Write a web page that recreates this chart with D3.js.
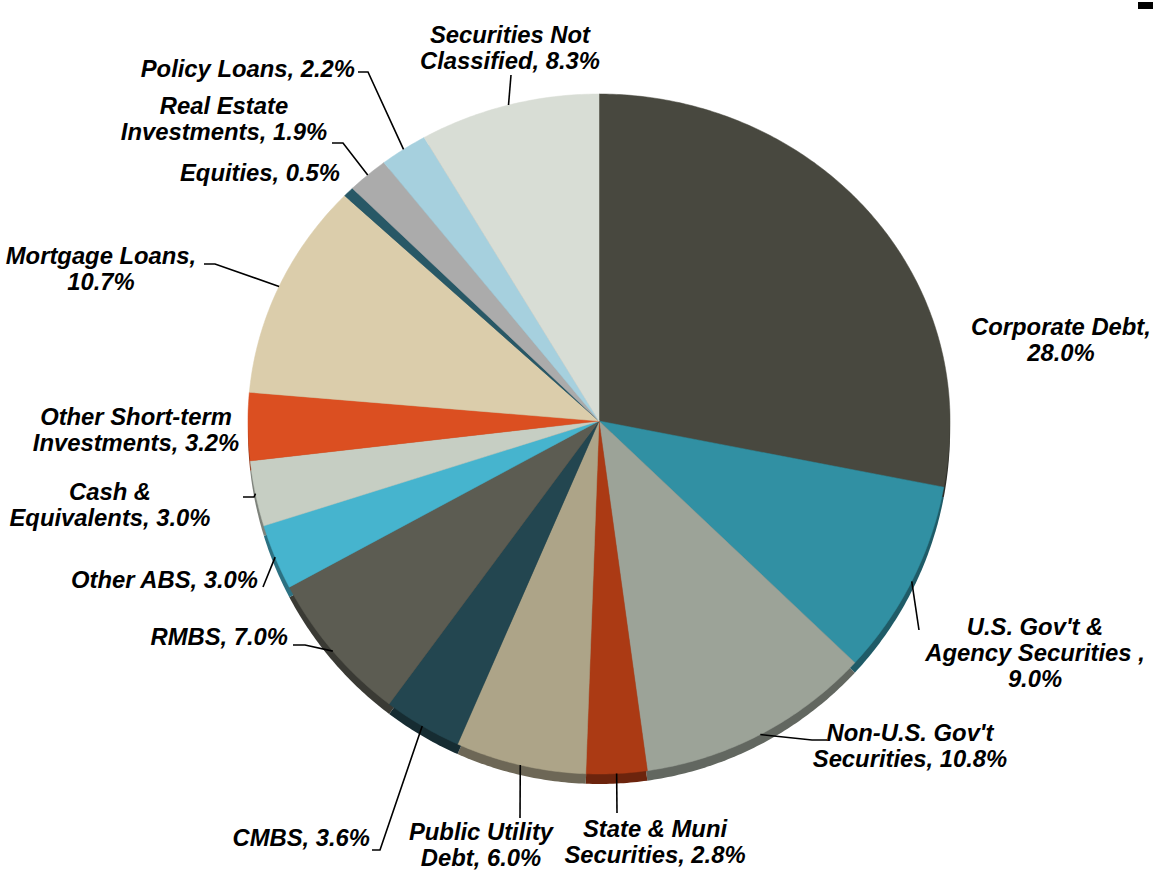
<!DOCTYPE html>
<html lang="en">
<head>
  <meta charset="utf-8">
  <title>Investment Allocation</title>
  <script src="https://cdnjs.cloudflare.com/ajax/libs/d3/7.8.5/d3.min.js"></script>
  <style>
    html, body { margin: 0; padding: 0; background: #fff; }
    text {
      font-family: "Liberation Sans", Arial, sans-serif;
      font-weight: bold;
      font-style: italic;
      font-size: 23.8px;
      fill: #000;
    }
    .leader { fill: none; stroke: #000; stroke-width: 1.6; }
  </style>
</head>
<body>
  <svg id="chart" width="1153" height="872"></svg>
  <script>
    // data, clockwise from 12 o'clock
    var categories = ["Corporate Debt", "U.S. Gov't & Agency Securities ", "Non-U.S. Gov't Securities",
      "State & Muni Securities", "Public Utility Debt", "CMBS", "RMBS", "Other ABS",
      "Cash & Equivalents", "Other Short-term Investments", "Mortgage Loans", "Equities",
      "Real Estate Investments", "Policy Loans", "Securities Not Classified"];
    var shares = [28.0, 9.0, 10.8, 2.8, 6.0, 3.6, 7.0, 3.0, 3.0, 3.2, 10.7, 0.5, 1.9, 2.2, 8.3];
    var colors = ["#48483f", "#3190a3", "#9ca398", "#ab3a14", "#ada488", "#234650", "#5c5c52", "#46b4ce",
      "#c6cec3", "#db4f21", "#dbcdab", "#285866", "#ababab", "#a6d0de", "#d8ddd5"];

    // label layout: text lines, anchor point, alignment, leader elbow points
    var labelLines = [
      ["Corporate Debt,", "28.0%"],
      ["U.S. Gov't &", "Agency Securities ,", "9.0%"],
      ["Non-U.S. Gov't", "Securities, 10.8%"],
      ["State & Muni", "Securities, 2.8%"],
      ["Public Utility", "Debt, 6.0%"],
      ["CMBS, 3.6%"],
      ["RMBS, 7.0%"],
      ["Other ABS, 3.0%"],
      ["Cash &", "Equivalents, 3.0%"],
      ["Other Short-term", "Investments, 3.2%"],
      ["Mortgage Loans,", "10.7%"],
      ["Equities, 0.5%"],
      ["Real Estate", "Investments, 1.9%"],
      ["Policy Loans, 2.2%"],
      ["Securities Not", "Classified, 8.3%"]
    ];
    var labelPos = [
      [1061, 335, "middle"], [1035, 635, "middle"], [910, 741, "middle"], [655, 837, "middle"],
      [481, 840, "middle"], [370, 846, "end"], [288, 645, "end"], [258, 588, "end"],
      [110, 500, "middle"], [136, 425, "middle"], [101, 264, "middle"], [340, 181, "end"],
      [224, 114, "middle"], [355, 77, "end"], [510, 43, "middle"]
    ];
    var leaders = [
      null, [[919, 630]], [[812, 740], [827, 740]], [[617, 813]], [[520, 818]],
      [[380, 850], [372, 850]], [[305, 645], [293, 645]], [[263, 587]], [[254, 497], [243, 497]],
      null, [[215, 264], [204, 264]], null, [[343, 143], [332, 143]], [[368, 72], [358, 72]], [[511, 75]]
    ];

    var svg = d3.select("#chart");
    var cx = 599, cy = 421, rx = 351, ryTop = 327, ryBot = 353, depth = 10;

    function rim(a, dy) {
      var c = Math.cos(a);
      return [cx + rx * Math.sin(a), cy + (dy || 0) - (c > 0 ? ryTop : ryBot) * c];
    }

    var pie = d3.pie().sort(null).value(function (d) { return d; });
    var arcs = pie(shares);
    var line = d3.line();

    function slicePath(d, dy) {
      var pts = [[cx, cy + dy]];
      var n = Math.max(2, Math.ceil((d.endAngle - d.startAngle) / 0.01));
      for (var i = 0; i <= n; i++) {
        pts.push(rim(d.startAngle + (d.endAngle - d.startAngle) * i / n, dy));
      }
      return line(pts) + "Z";
    }

    // side of the disc
    svg.append("g").selectAll("path").data(arcs).enter().append("path")
      .attr("d", function (d) { return slicePath(d, depth); })
      .attr("fill", function (d, i) { return d3.color(colors[i]).darker(1.3); });

    // top face
    svg.append("g").selectAll("path").data(arcs).enter().append("path")
      .attr("d", function (d) { return slicePath(d, 0); })
      .attr("fill", function (d, i) { return colors[i]; })
      .attr("stroke", function (d, i) { return colors[i]; })
      .attr("stroke-width", 0.5);

    // leader lines from slice rim
    svg.append("g").selectAll("path").data(arcs).enter()
      .filter(function (d, i) { return leaders[i]; })
      .append("path")
      .attr("class", "leader")
      .attr("d", function (d) {
        var mid = (d.startAngle + d.endAngle) / 2;
        return line([rim(mid, 0)].concat(leaders[d.index]));
      });

    // labels
    var lab = svg.append("g").selectAll("text").data(arcs).enter().append("text")
      .attr("x", function (d) { return labelPos[d.index][0]; })
      .attr("y", function (d) { return labelPos[d.index][1]; })
      .attr("text-anchor", function (d) { return labelPos[d.index][2]; });
    lab.selectAll("tspan").data(function (d) { return labelLines[d.index].map(function (t) { return { t: t, x: labelPos[d.index][0] }; }); })
      .enter().append("tspan")
      .attr("x", function (d) { return d.x; })
      .attr("dy", function (d, i) { return i === 0 ? 0 : 26; })
      .text(function (d) { return d.t; });

    svg.append("rect").attr("x", 1138).attr("y", 2).attr("width", 15).attr("height", 7).attr("fill", "#000");
  </script>
</body>
</html>
